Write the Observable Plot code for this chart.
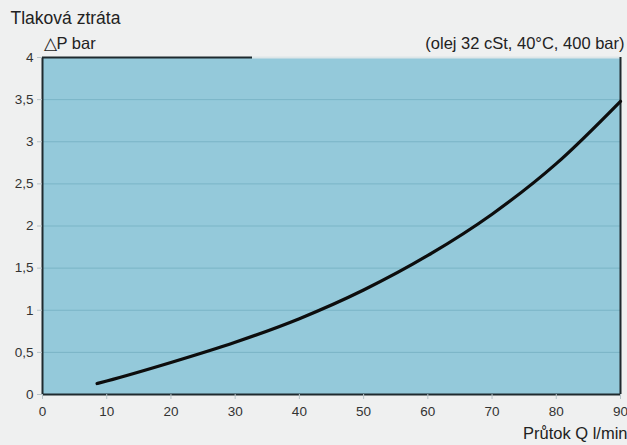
<!DOCTYPE html>
<html><head><meta charset="utf-8">
<script src="https://cdn.jsdelivr.net/npm/d3@7"></script>
<script src="https://cdn.jsdelivr.net/npm/@observablehq/plot@0.6"></script>
<style>
html,body{margin:0;padding:0;background:#eff0f0;}
#chart svg{display:block;}
</style>
</head><body><div id="chart"></div>
<script>
// Data
const flow = [8.5, 10, 20, 30, 40, 50, 60, 70, 80, 90];          // Q l/min
const pressureDrop = [0.13, 0.16, 0.38, 0.62, 0.90, 1.24, 1.65, 2.14, 2.74, 3.48]; // ΔP bar
const xTicks = [0, 10, 20, 30, 40, 50, 60, 70, 80, 90];
const yTicks = [0, 0.5, 1, 1.5, 2, 2.5, 3, 3.5, 4];
const titleText = "Tlaková ztráta";
const yLabelText = "△P bar";
const noteText = "(olej 32 cSt, 40°C, 400 bar)";
const xLabelText = "Průtok Q l/min";
const topBorderDarkEnd = [32.7];

const data = flow.map((q, i) => ({q, dp: pressureDrop[i]}));
const fmt = d => String(d).replace(".", ",");
const font = "'Liberation Sans', Arial, sans-serif";
const dark = "#1f2a2e";

const chart = Plot.plot({
  width: 627,
  height: 445,
  marginLeft: 42,
  marginRight: 7,
  marginTop: 57,
  marginBottom: 51,
  style: {background: "transparent", fontFamily: font, fontSize: "13px", color: "#333"},
  x: {domain: [0, 90]},
  y: {domain: [0, 4]},
  marks: [
    Plot.frame({fill: "#94c9da", stroke: "none"}),
    Plot.gridY(yTicks, {stroke: "#5a9bb0", strokeOpacity: 0.45, strokeWidth: 1}),
    Plot.ruleY([4], {x1: topBorderDarkEnd[0], x2: 90, stroke: "#dde6e8", strokeWidth: 2}),
    Plot.ruleY([4], {x1: 0, x2: topBorderDarkEnd[0], stroke: dark, strokeWidth: 2}),
    Plot.ruleX([0, 90], {stroke: dark, strokeWidth: 2}),
    Plot.ruleY([0], {stroke: dark, strokeWidth: 2}),
    Plot.line(data, {x: "q", y: "dp", curve: "monotone-x", stroke: "#0d0d0d", strokeWidth: 3.2}),
    Plot.axisX({ticks: xTicks, tickSize: 5, tickPadding: 7, stroke: "#b8c4c8", fill: "#333", fontSize: 13.5, label: null}),
    Plot.axisY({ticks: yTicks, tickSize: 5, tickPadding: 4, tickFormat: fmt, stroke: "#b8c4c8", fill: "#333", fontSize: 13.5, label: null}),
    Plot.text([titleText], {frameAnchor: "top-left", dx: -32, dy: -46, fontSize: 17.5, fill: "#222", textAnchor: "start"}),
    Plot.text([yLabelText], {frameAnchor: "top-left", dx: 1, dy: -20, fontSize: 16.5, fill: "#222", textAnchor: "start"}),
    Plot.text([noteText], {frameAnchor: "top-right", dx: 4, dy: -20, fontSize: 16.5, fill: "#222", textAnchor: "end"}),
    Plot.text([xLabelText], {frameAnchor: "bottom-right", dx: 7, dy: 44, fontSize: 16.5, fill: "#222", textAnchor: "end"})
  ]
});
document.getElementById("chart").append(chart);
</script>
</body></html>
